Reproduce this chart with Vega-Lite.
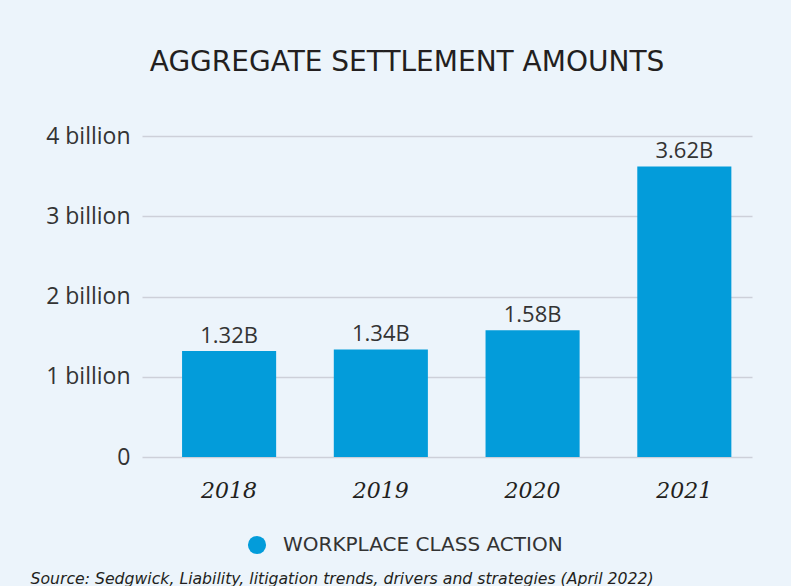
{
  "$schema": "https://vega.github.io/schema/vega-lite/v6.json",
  "autosize": {"type": "none"},
  "padding": {"left": 142, "top": 136, "right": 39, "bottom": 129},
  "width": 610,
  "height": 321,
  "background": "#ECF4FB",
  "title": {
    "text": "AGGREGATE SETTLEMENT AMOUNTS",
    "font": "DejaVu Sans",
    "fontSize": 28,
    "fontWeight": "normal",
    "color": "#231F20",
    "anchor": "middle",
    "frame": "group",
    "dx": -40,
    "offset": 26,
    "baseline": "alphabetic"
  },
  "data": {
    "values": [
      {"year": "2018", "amount": 1.32, "label": "1.32B", "series": "WORKPLACE CLASS ACTION"},
      {"year": "2019", "amount": 1.34, "label": "1.34B", "series": "WORKPLACE CLASS ACTION"},
      {"year": "2020", "amount": 1.58, "label": "1.58B", "series": "WORKPLACE CLASS ACTION"},
      {"year": "2021", "amount": 3.62, "label": "3.62B", "series": "WORKPLACE CLASS ACTION"}
    ]
  },
  "encoding": {
    "x": {
      "field": "year",
      "type": "ordinal",
      "scale": {"paddingInner": 0.38, "paddingOuter": 0.2, "align": 0.66},
      "axis": {
        "title": "Source: Sedgwick, Liability, litigation trends, drivers and strategies (April 2022)",
        "titleFont": "DejaVu Sans",
        "titleFontStyle": "italic",
        "titleFontWeight": "normal",
        "titleFontSize": 15.7,
        "titleColor": "#231F20",
        "titleAnchor": "start",
        "titleAlign": "left",
        "titleBaseline": "alphabetic",
        "titleX": -112,
        "titleY": 126,
        "titleLimit": 800,
        "labelAngle": 0,
        "labelFont": "DejaVu Serif",
        "labelFontStyle": "italic",
        "labelFontSize": 22,
        "labelColor": "#231F20",
        "labelPadding": 23,
        "domain": false,
        "ticks": false
      }
    },
    "y": {
      "field": "amount",
      "type": "quantitative",
      "scale": {"domain": [0, 4], "nice": false},
      "axis": {
        "title": null,
        "values": [0, 1, 2, 3, 4],
        "labelExpr": "datum.value == 0 ? '0' : datum.value + ' billion'",
        "labelFont": "Open Sans",
        "labelFontSize": 23,
        "labelColor": "#333333",
        "labelPadding": 12,
        "domain": false,
        "ticks": false,
        "grid": true,
        "gridColor": "#CDD0D9",
        "gridWidth": 1.5
      }
    }
  },
  "layer": [
    {
      "mark": {"type": "bar"},
      "encoding": {
        "color": {
          "field": "series",
          "type": "nominal",
          "scale": {"range": ["#039CDA"]},
          "legend": {
            "title": null,
            "orient": "none",
            "legendX": 105,
            "legendY": 399,
            "padding": 0,
            "symbolType": "circle",
            "symbolSize": 330,
            "symbolStrokeWidth": 0,
            "symbolOpacity": 1,
            "labelFont": "DejaVu Sans",
            "labelFontSize": 20,
            "labelColor": "#333333",
            "labelOffset": 16,
            "labelLimit": 500
          }
        }
      }
    },
    {
      "mark": {
        "type": "text",
        "baseline": "alphabetic",
        "dy": -8,
        "font": "Open Sans",
        "fontSize": 22,
        "color": "#333333"
      },
      "encoding": {"text": {"field": "label"}}
    }
  ],
  "config": {"view": {"stroke": null}}
}
